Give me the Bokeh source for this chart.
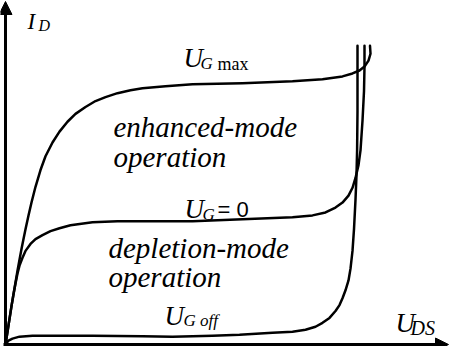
from bokeh.plotting import figure
from bokeh.models import Arrow, NormalHead, Range1d
from bokeh.core.properties import value
from bokeh.embed import file_html
from bokeh.resources import INLINE

# Output characteristics I_D(U_DS) (arbitrary units)
uds_max = [0, 2, 4, 6, 8, 10, 12, 14, 16, 18, 20, 23, 26, 30, 35, 40, 47, 54, 62, 70, 80, 90, 100,
           112, 125, 137, 160, 187, 237, 287, 317, 337, 347, 354, 359, 363, 365, 364.5]
id_max = [0, 13, 26, 39, 51, 63, 75, 86, 97, 107, 117, 131, 144, 160, 177, 191, 205, 216, 226, 234, 241, 247, 251,
          255, 258, 260, 262, 264, 265, 267, 269, 272, 275, 278, 282, 288, 295, 303]

uds_zero = [0, 2, 4, 6, 8, 10, 12, 14, 17, 20, 25, 30, 37, 45, 54, 65, 87, 112, 137, 187, 237, 287,
            307, 320, 330, 337, 343, 347, 350, 353, 355, 357, 358.5, 359, 359]
id_zero = [0, 13, 26, 39, 51, 62, 72, 80, 88, 95, 102, 107, 111, 115, 118, 121, 124, 125, 125, 125, 127, 129,
           131, 134, 139, 144, 151, 159, 169, 182, 197, 227, 257, 282, 303]

uds_off = [0, 3, 7, 14, 27, 54, 87, 137, 167, 207, 234, 267, 287, 300, 310, 317, 324, 330, 334, 337,
           340, 343, 345, 347, 348.5, 350, 351, 351.6, 352, 352, 352]
id_off = [0, 4, 6, 8, 9, 9, 9, 8.5, 8, 9, 10, 12, 13, 15, 18, 22, 27, 34, 40, 47,
          55, 65, 77, 95, 117, 147, 172, 197, 237, 277, 303]

p = figure(width=449, height=346, output_backend="svg", toolbar_location=None,
           x_range=Range1d(-5, 444), y_range=Range1d(-2, 349),
           min_border=0, min_border_left=0, min_border_right=0, min_border_top=0, min_border_bottom=0)
p.axis.visible = False
p.grid.visible = False
p.outline_line_color = None
p.background_fill_color = "white"
p.border_fill_color = "white"

for xs, ys in [(uds_max, id_max), (uds_zero, id_zero), (uds_off, id_off)]:
    p.line(xs, ys, line_color="black", line_width=2.5, line_join="round", line_cap="round")

# axes with arrows
p.add_layout(Arrow(end=NormalHead(size=13, fill_color="black", line_color="black", line_width=1),
                   x_start=0, y_start=-2, x_end=0, y_end=348, line_width=3, line_color="black"))
p.add_layout(Arrow(end=NormalHead(size=13, fill_color="black", line_color="black", line_width=1),
                   x_start=-2, y_start=0, x_end=443, y_end=0, line_width=3, line_color="black"))


def label(x, y, t, size, style="italic", font="Liberation Serif"):
    p.text(x=[x], y=[y], text=[t], text_font=value(font), text_font_size=value(f"{size}px"),
           text_font_style=style, text_color="black", text_align="left", text_baseline="alphabetic")

# I_D
label(22, 328, "I", 23)
label(33, 324, "D", 16)
# U_G max
label(178, 291, "U", 27)
label(195, 285, "G", 17)
label(212, 285, "max", 18, style="normal")
# enhanced-mode operation
label(108, 221, "enhanced-mode", 29)
label(108, 190, "operation", 29)
# U_G = 0
label(179, 137, "U", 27)
label(197, 132, "G", 17)
label(212, 137, "= 0", 22, style="normal", font="Liberation Sans")
# depletion-mode operation
label(103, 98, "depletion-mode", 29)
label(103, 68, "operation", 29)
# U_G off
label(159, 29, "U", 27)
label(178, 24, "G off", 17)
# U_DS
label(390, 22, "U", 27)
label(405, 17, "DS", 20)

open("out.html", "w").write(file_html(p, INLINE))
